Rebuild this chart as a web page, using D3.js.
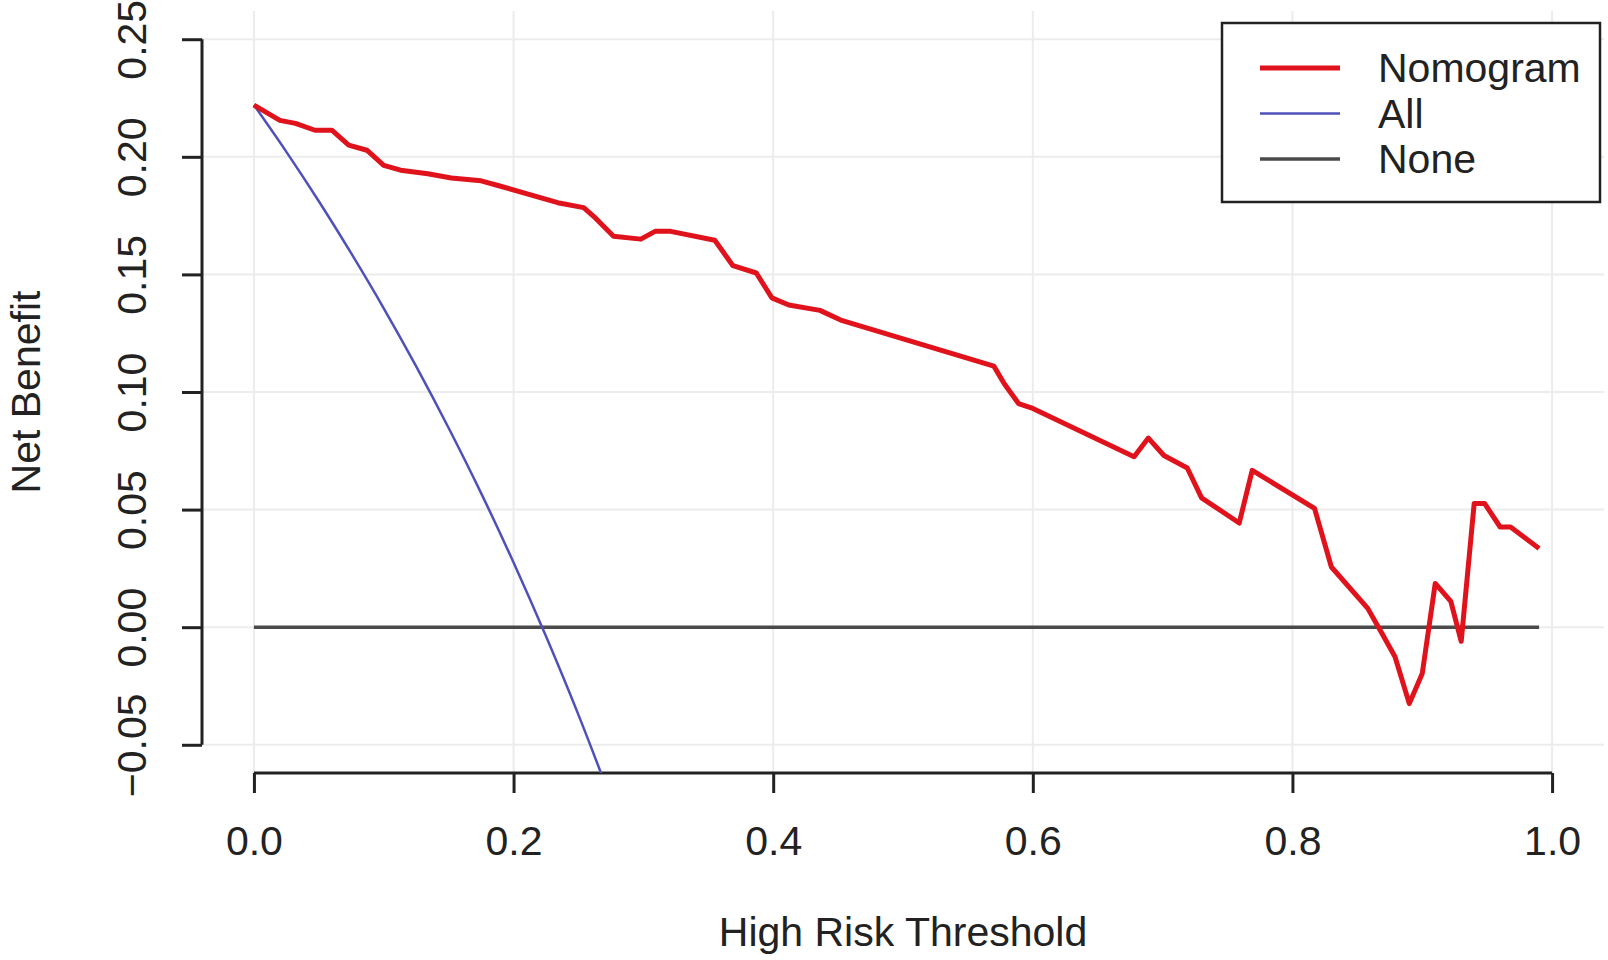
<!DOCTYPE html>
<html>
<head>
<meta charset="utf-8">
<script src="https://cdn.jsdelivr.net/npm/d3@7"></script>
<style>
  body { margin: 0; background: #fff; }
  svg text { font-family: "Liberation Sans", Arial, Helvetica, sans-serif; fill: #222; }
</style>
</head>
<body>
<div id="chart"></div>
<script>
// Decision curve data
const thresholds = [0.000, 0.020, 0.032, 0.047, 0.060, 0.073, 0.087, 0.100, 0.113, 0.134,
    0.152, 0.175, 0.188, 0.234, 0.254, 0.263, 0.277, 0.298, 0.309, 0.321, 0.355,
    0.369, 0.387, 0.399, 0.412, 0.436, 0.452, 0.570, 0.578, 0.589, 0.600,
    0.678, 0.689, 0.701, 0.719, 0.730, 0.759, 0.769, 0.817, 0.830, 0.858,
    0.869, 0.879, 0.890, 0.900, 0.910, 0.922, 0.930, 0.940, 0.948, 0.960,
    0.968, 0.990];
const nomogram = [0.2220, 0.2155, 0.2142, 0.2113, 0.2113, 0.2050, 0.2028, 0.1964, 0.1943, 0.1928,
    0.1910, 0.1898, 0.1878, 0.1805, 0.1784, 0.1740, 0.1662, 0.1650, 0.1683, 0.1683, 0.1645,
    0.1537, 0.1506, 0.1400, 0.1370, 0.1347, 0.1306, 0.1110, 0.1035, 0.0951, 0.0930,
    0.0725, 0.0804, 0.0730, 0.0677, 0.0550, 0.0443, 0.0667, 0.0505, 0.0256, 0.0080,
    -0.0027, -0.0126, -0.0325, -0.0197, 0.0186, 0.0110, -0.0060, 0.0526, 0.0526, 0.0426,
    0.0426, 0.0335];

const allThresholds = [0.000, 0.025, 0.050, 0.075, 0.100, 0.125, 0.150, 0.175, 0.200, 0.225, 0.250, 0.275];
const allValues = [0.2220, 0.2021, 0.1811, 0.1589, 0.1356, 0.1109, 0.0847, 0.0570, 0.0275, -0.0039, -0.0373, -0.0731];

const noneThresholds = [0.000, 0.990];
const noneValues = [0, 0];

const xTicks = [0, 0.2, 0.4, 0.6, 0.8, 1.0];
const yTicks = [-0.05, 0, 0.05, 0.10, 0.15, 0.20, 0.25];

const seriesNames = ['Nomogram', 'All', 'None'];
const seriesColors = ['#e0121c', '#5050bb', '#4a4a4a'];
const seriesWidths = [5, 2.5, 3.5];

const W = 1608, H = 960;
const fontSize = 41;

// R-style plot region: data range padded by 4%
const x = d3.scaleLinear().domain([-0.04, 1.04]).range([202, 1604]);
const y = d3.scaleLinear().domain([-0.062, 0.262]).range([773, 11]);

const svg = d3.select('#chart').append('svg')
    .attr('width', W)
    .attr('height', H);

svg.append('clipPath').attr('id', 'plotClip')
    .append('rect')
    .attr('x', x(-0.04)).attr('y', y(0.262))
    .attr('width', x(1.04) - x(-0.04))
    .attr('height', y(-0.062) - y(0.262));

// grid
const grid = svg.append('g');
grid.selectAll('.vgrid').data(xTicks).join('line')
    .attr('x1', d => x(d)).attr('x2', d => x(d))
    .attr('y1', y(0.262)).attr('y2', y(-0.062))
    .attr('stroke', '#ececec').attr('stroke-width', 2);
grid.selectAll('.hgrid').data(yTicks).join('line')
    .attr('x1', x(-0.04)).attr('x2', x(1.04))
    .attr('y1', d => y(d)).attr('y2', d => y(d))
    .attr('stroke', '#ececec').attr('stroke-width', 2);

// axes
const xAxis = svg.append('g')
    .attr('transform', `translate(0,${y(-0.062)})`)
    .call(d3.axisBottom(x).tickValues(xTicks).tickFormat(d3.format('.1f'))
        .tickSize(20).tickSizeOuter(0).tickPadding(33));
xAxis.select('.domain').attr('d', `M${x(0)},0H${x(1)}`);

const yAxis = svg.append('g')
    .attr('transform', `translate(${x(-0.04)},0)`)
    .call(d3.axisLeft(y).tickValues(yTicks).tickFormat(d3.format('.2f'))
        .tickSize(20).tickSizeOuter(0));
yAxis.select('.domain').attr('d', `M0,${y(0.25)}V${y(-0.05)}`);

svg.selectAll('.domain, .tick line').attr('stroke', '#222').attr('stroke-width', 3);
svg.selectAll('.tick text').attr('font-size', fontSize).attr('fill', '#222')
    .attr('font-family', '"Liberation Sans", Arial, sans-serif');

xAxis.selectAll('.tick text').attr('dy', '0.71em');
yAxis.selectAll('.tick text')
    .attr('text-anchor', 'middle')
    .attr('dy', null)
    .attr('dominant-baseline', 'central')
    .attr('x', null)
    .attr('transform', d => `translate(-70,0) rotate(-90)`)
    .text(d => d3.format('.2f')(d).replace('-', '\u2212'));

// axis titles
svg.append('text')
    .attr('x', (x(0) + x(1)) / 2)
    .attr('y', 946)
    .attr('text-anchor', 'middle')
    .attr('font-size', fontSize)
    .text('High Risk Threshold');

svg.append('text')
    .attr('transform', `translate(26,${(y(0.25) + y(-0.05)) / 2}) rotate(-90)`)
    .attr('text-anchor', 'middle')
    .attr('dominant-baseline', 'central')
    .attr('font-size', fontSize)
    .text('Net Benefit');

// curves
const line = d3.line().x(d => x(d[0])).y(d => y(d[1]));
const plot = svg.append('g').attr('clip-path', 'url(#plotClip)');

plot.append('path')
    .datum(d3.zip(noneThresholds, noneValues))
    .attr('d', line)
    .attr('fill', 'none')
    .attr('stroke', seriesColors[2])
    .attr('stroke-width', seriesWidths[2]);

plot.append('path')
    .datum(d3.zip(allThresholds, allValues))
    .attr('d', line.curve(d3.curveMonotoneX))
    .attr('fill', 'none')
    .attr('stroke', seriesColors[1])
    .attr('stroke-width', seriesWidths[1]);

plot.append('path')
    .datum(d3.zip(thresholds, nomogram))
    .attr('d', d3.line().x(d => x(d[0])).y(d => y(d[1])))
    .attr('fill', 'none')
    .attr('stroke', seriesColors[0])
    .attr('stroke-width', seriesWidths[0])
    .attr('stroke-linejoin', 'round');

// legend
const legend = svg.append('g');
legend.append('rect')
    .attr('x', 1222).attr('y', 23)
    .attr('width', 378).attr('height', 179)
    .attr('fill', '#fff')
    .attr('stroke', '#222').attr('stroke-width', 2.5);

seriesNames.forEach((name, i) => {
    const ly = 68 + i * 45.5;
    legend.append('line')
        .attr('x1', 1260).attr('x2', 1340)
        .attr('y1', ly).attr('y2', ly)
        .attr('stroke', seriesColors[i])
        .attr('stroke-width', seriesWidths[i]);
    legend.append('text')
        .attr('x', 1378).attr('y', ly)
        .attr('dominant-baseline', 'central')
        .attr('font-size', fontSize)
        .text(name);
});
</script>
</body>
</html>
